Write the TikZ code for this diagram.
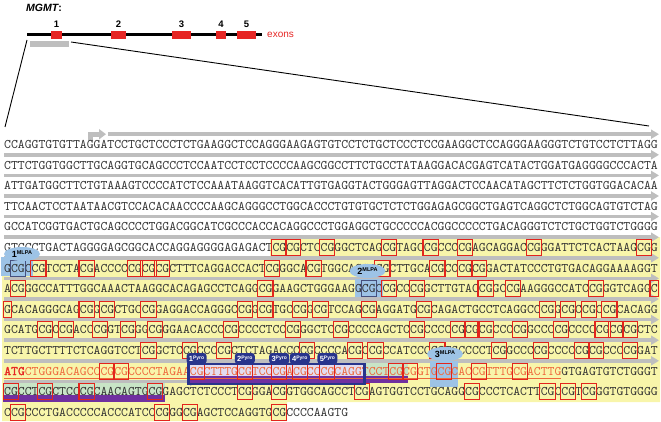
\documentclass[tikz,border=0pt]{standalone}
\usepackage{fontspec}
\setsansfont{Liberation Sans}
\newfontfamily\seqfont{lmmono10-regular}[Extension=.otf]
\newfontfamily\seqbold{lmmono10-regular}[Extension=.otf,FakeBold=1.6]
\usetikzlibrary{positioning,arrows.meta,shapes.geometric}

\definecolor{exred}{RGB}{230,38,36}
\definecolor{cgred}{RGB}{226,36,28}
\definecolor{bargrey}{RGB}{190,190,190}
\definecolor{cpgyellow}{RGB}{248,245,170}
\definecolor{mlpablue}{RGB}{157,195,230}
\definecolor{mlpabox}{RGB}{70,80,125}
\definecolor{pyronavy}{RGB}{40,52,140}
\definecolor{ampviolet}{RGB}{112,48,160}
\definecolor{ampgreen}{RGB}{200,228,198}
\definecolor{pyrofill}{RGB}{226,220,240}
\definecolor{exorange}{RGB}{238,104,60}

\newcommand{\mlpatag}[1]{{\fontsize{9}{9}\selectfont #1}\raisebox{2.8pt}{\fontsize{5.5}{6}\selectfont MLPA}}
\newcommand{\pyrotag}[1]{{\fontsize{7.5}{8}\selectfont #1}\raisebox{2.3pt}{\fontsize{5}{6}\selectfont Pyro}}
\newcommand{\cgat}[2]{\draw[cpg] (4+#2*6.88-0.7,#1-8) rectangle ++(2*6.88+1.4,16);}

\tikzset{
  seqrow/.style={anchor=base west,inner sep=0pt,text=black!80,font=\fontsize{13.105}{15}\seqfont},
  cpg/.style={draw=cgred,line width=1.1pt},
  tbar/.style={draw=bargrey,line width=3.6pt,-{Triangle[length=8pt,width=9pt]}},
  exon/.style={fill=exred,minimum height=7.5pt,inner sep=0pt},
  exnum/.style={font=\sffamily\bfseries\fontsize{9.5}{10}\selectfont,inner sep=0pt},
  mlpatab/.style={ellipse,fill=mlpablue,inner sep=0pt,minimum width=36pt,minimum height=14pt,font=\sffamily\bfseries},
  pyrotab/.style={fill=pyronavy,text=white,rounded corners=3pt,minimum width=20pt,minimum height=11pt,inner sep=0pt,font=\sffamily\bfseries}
}

\begin{document}
\begin{tikzpicture}[x=1pt,y=-1pt]
\useasboundingbox (0,0) rectangle (661,422);

% gene overview
\node[anchor=west,inner sep=0pt,font=\sffamily\bfseries\fontsize{10.5}{12}\selectfont] (gname) at (26,8) {\itshape MGMT\upshape:};
\coordinate (gstart) at (27,35);
\coordinate (gend) at (262,35);
\draw[line width=3pt] (gstart) -- (gend);
\node[exon,minimum width=11pt] (e1) at (56.5,35) {};
\node[exon,minimum width=15pt] (e2) at (118.5,35) {};
\node[exon,minimum width=19pt] (e3) at (181.5,35) {};
\node[exon,minimum width=10pt] (e4) at (221,35) {};
\node[exon,minimum width=19pt] (e5) at (246.5,35) {};
\foreach \e in {1,...,5} \node[exnum,above=3pt of e\e] (n\e) {\e};
\node[anchor=west,inner sep=0pt,text=exred,font=\sffamily\fontsize{10}{12}\selectfont] (exlab) at (267,34.5) {exons};
\node[fill=bargrey,minimum width=39pt,minimum height=6pt,inner sep=0pt] (prom) at (49.5,44) {};
\coordinate (zl0) at (27,40);
\coordinate (zr0) at (71,42);
\coordinate (zl1) at (5,127);
\coordinate (zr1) at (649,126);
\draw[line width=0.9pt] (zl0) -- (zl1);
\draw[line width=0.9pt] (zr0) -- (zr1);

% CpG island and assay regions
\fill[cpgyellow] (270,237.2) -- (660,237.2) -- (660,402) -- (287,402) -- (287,421) -- (2,421) -- (2,257.8) -- (270,257.8) -- cycle;
\fill[ampgreen] (365,362) rectangle (408,383);
\fill[ampgreen] (3,383) rectangle (165,402);
\fill[pyrofill] (188,364) rectangle (365,384);

% transcript
\coordinate (tss) at (90,141);
\draw[bargrey,line width=5pt,-{Triangle[length=7pt,width=10pt]}] (tss) |- (106,134.2);
\draw[tbar] (108,134.2) -- (659,134.2);
\foreach \y in {154.8,175.4,196.0,216.6,237.2,257.8,278.4,299.0,319.6,340.2,360.8}
  \draw[tbar] (4,\y) -- (659,\y);
\draw[tbar] (4,381.4) -- (198,381.4);

\fill[ampviolet] (190,376) rectangle (408,383);
\fill[ampviolet] (3,395) rectangle (165,402);

% MLPA probe sites
\fill[mlpablue] (1,257) rectangle (33,276);
\fill[mlpablue] (355,279) rectangle (383,297);
\fill[mlpablue] (430,361) rectangle (458,387);

% sequence
\node[seqrow] (r1) at (4,148.5) {CCAGGTGTGTTAGGATCCTGCTCCCTCTGAAGGCTCCAGGGAAGAGTGTCCTCTGCTCCCTCCGAAGGCTCCAGGGAAGGGTCTGTCCTCTTAGG};
\node[seqrow] (r2) at (4,169.1) {CTTCTGGTGGCTTGCAGGTGCAGCCCTCCAATCCTCCTCCCCAAGCGGCCTTCTGCCTATAAGGACACGAGTCATACTGGATGAGGGGCCCACTA};
\node[seqrow] (r3) at (4,189.7) {ATTGATGGCTTCTGTAAAGTCCCCATCTCCAAATAAGGTCACATTGTGAGGTACTGGGAGTTAGGACTCCAACATAGCTTCTCTGGTGGACACAA};
\node[seqrow] (r4) at (4,210.3) {TTCAACTCCTAATAACGTCCACACAACCCCAAGCAGGGCCTGGCACCCTGTGTGCTCTCTGGAGAGCGGCTGAGTCAGGCTCTGGCAGTGTCTAG};
\node[seqrow] (r5) at (4,230.9) {GCCATCGGTGACTGCAGCCCCTGGACGGCATCGCCCACCACAGGCCCTGGAGGCTGCCCCCACGGCCCCCTGACAGGGTCTCTGCTGGTCTGGGG};
\node[seqrow] (r6) at (4,251.5) {GTCCCTGACTAGGGGAGCGGCACCAGGAGGGGAGAGACTCGCGCTCCGGGCTCAGCGTAGCCGCCCCGAGCAGGACCGGGATTCTCACTAAGCGG};
\node[seqrow] (r7) at (4,272.1) {GCGCCGTCCTACGACCCCCGCGCGCTTTCAGGACCACTCGGGCACGTGGCAGGTCGCTTGCACGCCCGCGGACTATCCCTGTGACAGGAAAAGGT};
\node[seqrow] (r8) at (4,292.7) {ACGGGCCATTTGGCAAACTAAGGCACAGAGCCTCAGGCGGAAGCTGGGAAGGCGCCGCCCGGCTTGTACCGGCCGAAGGGCCATCCGGGTCAGGC};
\node[seqrow] (r9) at (4,313.3) {GCACAGGGCAGCGGCGCTGCCGGAGGACCAGGGCCGGCGTGCCGGCGTCCAGCGAGGATGCGCAGACTGCCTCAGGCCCGGCGCCGCCGCACAGG};
\node[seqrow] (r10) at (4,333.9) {GCATGCGCCGACCCGGTCGGGCGGGAACACCCCGCCCCTCCCGGGCTCCGCCCCAGCTCCGCCCCCGCGCGCCCCGGCCCCGCCCCCGCGCGCTC};
\node[seqrow] (r11) at (4,354.5) {TCTTGCTTTTCTCAGGTCCTCGGCTCCGCCCCGCTCTAGACCCCGCCCCACGCCGCCATCCCCGTGCCCCTCGGCCCCGCCCCCGCGCCCCGGAT};
\node[seqrow,text=exred,font=\fontsize{13.105}{15}\seqbold] (atg) at (4,375.1) {ATG};
\node[seqrow,text=exorange] (r12) at (4+3*6.88,375.1) {CTGGGACAGCCCGCGCCCCTAGAACGCTTTGCGTCCCGACGCCCGCAGGTCCTCGCGGTGCGCACCGTTTGCGACTTG};
\node[seqrow] (intr) at (4+81*6.88,375.1) {GTGAGTGTCTGGGT};
\node[seqrow] (r13) at (4,395.7) {CGCCTCGCTCCCGCAACAGTGCGGAGCTCTCCCTCGGGACGGTGGCAGCCTCGAGTGGTCCTGCAGGCGCCCTCACTTCGCCGTCGGGTGTGGGG};
\node[seqrow] (r14) at (4,416.3) {CCGCCCTGACCCCCACCCATCCCGGGCGAGCTCCAGGTGCGCCCCAAGTG};
\draw[exorange,line width=0.9pt] (4,378.2) -- (561,378.2);

% CpG sites
\foreach \k in {39,41,46,55,61,66,76,92} {\cgat{247.5}{\k}}
\foreach \k in {4,11,18,20,22,38,44,54,62,66,68} {\cgat{268.1}{\k}}
\foreach \k in {1,37,55,59,69,73,85} {\cgat{288.7}{\k}}
\foreach \k in {11,14,20,34,37,42,45,52,60,78,81,84,87} {\cgat{309.3}{\k}}
\foreach \k in {5,8,13,17,21,32,41,48,59,65,67,69,74,80,86,88,90} {\cgat{329.9}{\k}}
\foreach \k in {20,26,31,43,50,53,62,71,77,83,85,90} {\cgat{350.5}{\k}}
\foreach \k in {14,16,27,34,39,42,46,56,58,63,68,74} {\cgat{371.1}{\k}}
\foreach \k in {0,5,11,21,34,39,51,67,78,81,84} {\cgat{391.7}{\k}}
\foreach \k in {1,22,26,39} {\cgat{412.3}{\k}}
\draw[cpg] (4+94*6.88-0.7,280.7) rectangle ++(6.88+1.4,16);
\draw[cpg] (4-0.7,301.3) rectangle ++(6.88+1.4,16);
\draw[cpg,draw=mlpabox] (4+1*6.88-0.7,260.1) rectangle ++(2*6.88+1.4,16);
\draw[cpg,draw=mlpabox] (4+52*6.88-0.7,280.7) rectangle ++(2*6.88+1.4,16);

% pyrosequencing assay
\draw[pyronavy,line width=2.5pt] (188.5,364) rectangle (364.5,384);
\node[pyrotab] (p1) at (196.6,358.5) {\pyrotag{1}};
\node[pyrotab] (p2) at (244.8,358.5) {\pyrotag{2}};
\node[pyrotab] (p3) at (279.2,358.5) {\pyrotag{3}};
\node[pyrotab] (p4) at (299.8,358.5) {\pyrotag{4}};
\node[pyrotab] (p5) at (327.4,358.5) {\pyrotag{5}};

% MLPA labels
\node[mlpatab] (m1) at (22,254) {\mlpatag{1}};
\node[mlpatab] (m2) at (367.5,271) {\mlpatag{2}};
\node[mlpatab] (m3) at (445,354) {\mlpatag{3}};
\end{tikzpicture}
\end{document}
